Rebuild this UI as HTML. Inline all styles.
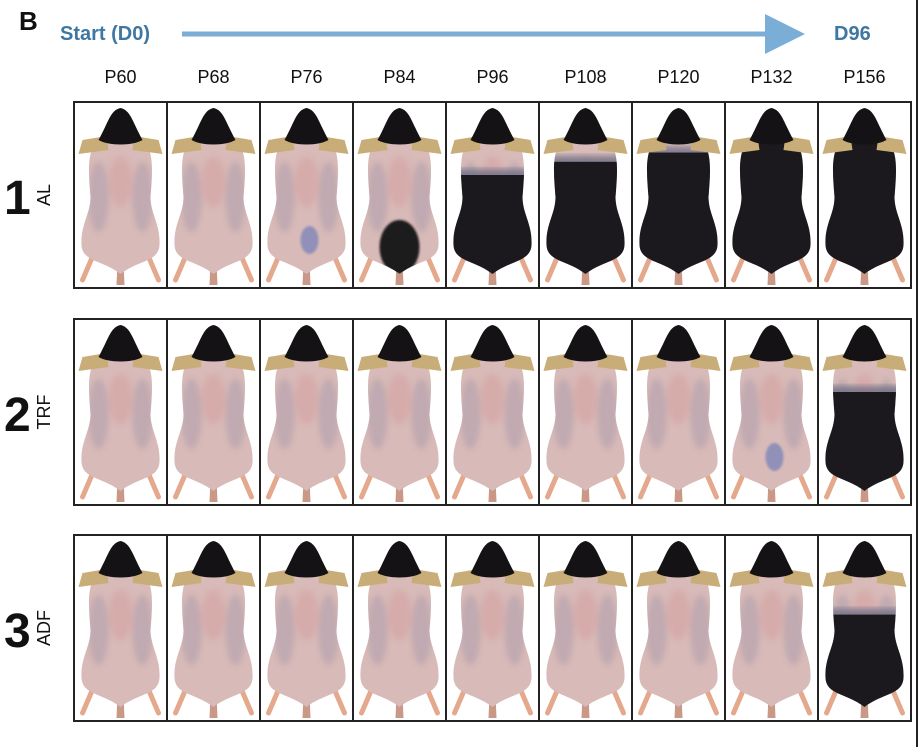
<!DOCTYPE html>
<html><head><meta charset="utf-8"><style>
html,body{margin:0;padding:0;background:#fff;width:919px;height:747px;overflow:hidden;font-family:"Liberation Sans",Arial,sans-serif}
svg{display:block}
</style></head><body>
<svg id="fig" width="919" height="747" viewBox="0 0 919 747" xmlns="http://www.w3.org/2000/svg">
<defs>
<marker id="ah" markerWidth="8" markerHeight="8" refX="6" refY="4" orient="auto" markerUnits="strokeWidth"><path d="M0,0 L8,4 L0,8 z" fill="#7aaed6"/></marker>
<filter id="soft" x="-20%" y="-20%" width="140%" height="140%"><feGaussianBlur stdDeviation="3"/></filter>
<filter id="soft1" x="-10%" y="-10%" width="120%" height="120%"><feGaussianBlur stdDeviation="1"/></filter>
</defs>
<line x1="917" y1="0" x2="917" y2="747" stroke="#222" stroke-width="2"/>
<text x="19" y="30" font-size="26" font-weight="bold" fill="#111">B</text>
<text x="60" y="40" font-size="20" font-weight="bold" fill="#3f77a3">Start (D0)</text>
<line x1="182" y1="34" x2="795" y2="34" stroke="#7aaed6" stroke-width="5" marker-end="url(#ah)"/>
<text x="834" y="40" font-size="20" font-weight="bold" fill="#3f77a3">D96</text>
<g id="cols"></g>
<g id="rows"></g>
</svg>
<script>
const ages = ["P60","P68","P76","P84","P96","P108","P120","P132","P156"];
const groups = ["AL","TRF","ADF"];
const groupNums = ["1","2","3"];
// dark coat fraction of body (0 = none) per group per timepoint
const darkAL  = [0,0,0,0.35,0.75,0.85,0.92,1,1];
const darkTRF = [0,0,0,0,0,0,0,0,0.75];
const darkADF = [0,0,0,0,0,0,0,0,0.7];
const blueAL  = [0,0,1,0,0,0,0,0,0];
const blueTRF = [0,0,0,0,0,0,0,1,0];
const blueADF = [0,0,0,0,0,0,0,0,0];
const darks=[darkAL,darkTRF,darkADF], blues=[blueAL,blueTRF,blueADF];
const NS="http://www.w3.org/2000/svg";
const x0=74, cw=93, ch=186, rowTops=[102,319,535];
function mk(tag,attrs,parent){const e=document.createElementNS(NS,tag);for(const k in attrs)e.setAttribute(k,attrs[k]);parent.appendChild(e);return e;}
const colsG=document.getElementById('cols');
ages.forEach((a,i)=>{
  const t=mk('text',{x:x0+cw*i+cw/2,y:83,'font-size':18,'text-anchor':'middle',fill:'#111'},colsG);
  
  
  t.textContent=a;
});
const rowsG=document.getElementById('rows');
groups.forEach((g,r)=>{
  const y0=rowTops[r];
  const rg=mk('g',{},rowsG);
  
  
  const n=mk('text',{x:4,y:y0+ch/2+19,'font-size':48,'font-weight':'bold',fill:'#111'},rg);
  
  
  n.textContent=groupNums[r];
  const gl=mk('text',{x:0,y:0,'font-size':18,fill:'#111','text-anchor':'middle',transform:`translate(50,${y0+ch/2}) rotate(-90)`},rg);
  
  
  gl.textContent=g;
  ages.forEach((a,i)=>{
    const cx=x0+cw*i+cw/2, y=y0;
    const cell=mk('g',{},rg);
    
    
    mk('rect',{x:x0+cw*i,y:y,width:cw,height:ch,fill:'#fff'},cell);
    const lc='#e4a88c';
    mk('path',{d:`M${cx-26},${y+150} L${cx-38},${y+178} M${cx+26},${y+150} L${cx+38},${y+178}`,stroke:lc,'stroke-width':5,'stroke-linecap':'round',fill:'none'},cell);
    mk('path',{d:`M${cx-3},${y+160} L${cx-4},${y+183} L${cx+4},${y+183} L${cx+3},${y+160}z`,fill:'#c99886'},cell);
    const bd=`M${cx-22},${y+38} C${cx-34},${y+48} ${cx-32},${y+70} ${cx-30},${y+95} C${cx-30},${y+112} ${cx-40},${y+122} ${cx-39},${y+143} C${cx-38},${y+160} ${cx-18},${y+158} ${cx},${y+172} C${cx+18},${y+158} ${cx+38},${y+160} ${cx+39},${y+143} C${cx+40},${y+122} ${cx+30},${y+112} ${cx+30},${y+95} C${cx+32},${y+70} ${cx+34},${y+48} ${cx+22},${y+38}z`;
    const cid='c'+r+'_'+i;
    const cp=mk('clipPath',{id:cid},cell);
    mk('path',{d:bd},cp);
    mk('path',{d:bd,fill:'#d8bab8'},cell);
    const tint=mk('g',{'clip-path':`url(#${cid})`},cell);
    mk('ellipse',{cx:cx-22,cy:y+95,rx:10,ry:35,fill:'#a99aaa',opacity:0.5,filter:'url(#soft)'},tint);
    mk('ellipse',{cx:cx+22,cy:y+95,rx:10,ry:35,fill:'#a99aaa',opacity:0.5,filter:'url(#soft)'},tint);
    mk('ellipse',{cx:cx,cy:y+80,rx:12,ry:25,fill:'#d49e9e',opacity:0.5,filter:'url(#soft)'},tint);
    const dk=darks[r][i];
    if(dk>0){
      if(r===0&&i===3){
        mk('ellipse',{cx:cx,cy:y+145,rx:20,ry:27,fill:'#1c1a1e',filter:'url(#soft1)'},tint);
      } else {
        const top=y+172-dk*132;
        mk('rect',{x:cx-45,y:top-6,width:90,height:12,fill:'#6e6f86',opacity:0.8,filter:'url(#soft)'},tint);
        mk('rect',{x:cx-45,y:top,width:90,height:y+174-top,fill:'#1b191d'},tint);
      }
    }
    if(blues[r][i]){
      mk('ellipse',{cx:cx+3,cy:y+138,rx:9,ry:14,fill:'#7f86b8',opacity:0.8,filter:'url(#soft1)'},cell);
    }
    mk('path',{d:`M${cx-14},${y+34} L${cx-38},${y+38} L${cx-42},${y+52} L${cx-12},${y+48}z M${cx+14},${y+34} L${cx+38},${y+38} L${cx+42},${y+52} L${cx+12},${y+48}z`,fill:'#c9ad78'},cell);
    mk('path',{d:`M${cx},${y+6} C${cx+10},${y+8} ${cx+12},${y+20} ${cx+22},${y+38} C${cx+12},${y+44} ${cx-12},${y+44} ${cx-22},${y+38} C${cx-12},${y+20} ${cx-10},${y+8} ${cx},${y+6}z`,fill:'#141214'},cell);
    mk('rect',{x:x0+cw*i,y:y,width:cw,height:ch,fill:'none',stroke:'#222','stroke-width':2},cell);
  });
});
</script>
</body></html>
